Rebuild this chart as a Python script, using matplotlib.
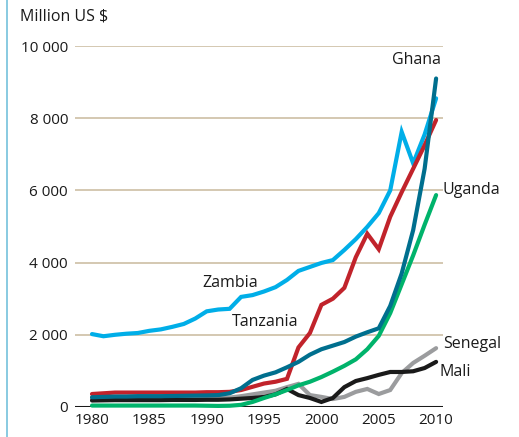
import matplotlib
matplotlib.use("Agg")
import matplotlib.pyplot as plt
from matplotlib.lines import Line2D

plt.rcParams['font.family'] = ['Open Sans', 'DejaVu Sans']

years = list(range(1980, 2011))

zambia = [2020, 1960, 2000, 2030, 2050, 2110, 2150, 2220, 2300, 2450, 2650, 2700, 2720, 3050,
          3100, 3200, 3320, 3520, 3770, 3880, 3990, 4070, 4350, 4650, 4990, 5370, 6000, 7620,
          6750, 7550, 8550]
tanzania = [360, 380, 400, 400, 400, 400, 400, 400, 400, 400, 410, 410, 420, 470,
            560, 650, 700, 780, 1650, 2050, 2830, 3000, 3300, 4150, 4800, 4370, 5270, 5950,
            6600, 7250, 7950]
ghana = [270, 280, 290, 290, 300, 300, 300, 305, 310, 315, 320, 330, 380, 520,
         750, 870, 960, 1100, 1250, 1450, 1600, 1700, 1800, 1950, 2070, 2180, 2800, 3700,
         4900, 6600, 9100]
uganda = [40, 40, 40, 40, 40, 40, 40, 40, 40, 40, 35, 30, 35, 60,
          140, 250, 350, 470, 600, 700, 830, 980, 1140, 1320, 1600, 1970, 2600, 3400,
          4200, 5050, 5870]
senegal = [240, 240, 240, 240, 240, 240, 245, 245, 250, 250, 250, 255, 260, 300,
           350, 400, 450, 550, 640, 330, 280, 220, 280, 420, 500, 360, 470, 940,
           1220, 1420, 1630]
mali = [180, 185, 190, 190, 190, 190, 190, 195, 195, 195, 200, 200, 210, 230,
        250, 280, 350, 500, 330, 250, 140, 250, 550, 720, 800, 890, 970, 970,
        990, 1080, 1250]

series = [
    ("Zambia", zambia, "#00aee8"),
    ("Senegal", senegal, "#9b9c9e"),
    ("Mali", mali, "#1a1a1a"),
    ("Uganda", uganda, "#00b36b"),
    ("Tanzania", tanzania, "#c1232b"),
    ("Ghana", ghana, "#006f8e"),
]

yticks = [0, 2000, 4000, 6000, 8000, 10000]
ytick_labels = ["0", "2 000", "4 000", "6 000", "8 000", "10 000"]
xticks = [1980, 1985, 1990, 1995, 2000, 2005, 2010]

W, H = 519, 437
fig = plt.figure(figsize=(W / 100, H / 100), dpi=100)
ax = fig.add_axes([75 / W, (H - 407) / H, (443 - 75) / W, (407 - 46) / H])

ax.set_xlim(1980 + (75 - 92) / 11.47, 1980 + (443 - 92) / 11.47)
ax.set_ylim(0, 10000)

for v in yticks[1:]:
    ax.axhline(v, color="#c9b99c", lw=1.1, zorder=1)
ax.axhline(0, color="#1a1a1a", lw=2.2, zorder=2)

for name, vals, col in series:
    ax.plot(years, vals, color=col, lw=3.0, solid_capstyle="round",
            solid_joinstyle="miter", zorder=3, clip_on=False)

for s in ax.spines.values():
    s.set_visible(False)
ax.set_yticks(yticks)
ax.set_yticklabels(ytick_labels)
ax.set_xticks(xticks)
ax.tick_params(axis="both", length=0, labelsize=11, colors="#1a1a1a")
ax.tick_params(axis="y", pad=5)
ax.tick_params(axis="x", pad=4)

fs = 11.5
tc = "#1a1a1a"
ax.text(2010.43, 9612, "Ghana", ha="right", va="center", fontsize=fs, color=tc)
ax.text(2010.6, 6011, "Uganda", ha="left", va="center", fontsize=fs, color=tc)
ax.text(1992.03, 3435, "Zambia", ha="center", va="center", fontsize=fs, color=tc)
ax.text(1992.2, 2355, "Tanzania", ha="left", va="center", fontsize=fs, color=tc)
ax.text(2010.6, 1745, "Senegal", ha="left", va="center", fontsize=fs, color=tc)
ax.text(2010.34, 970, "Mali", ha="left", va="center", fontsize=fs, color=tc)

fig.text(20 / W, 1 - 17 / H, "Million US $", ha="left", va="center", fontsize=fs, color=tc)

fig.add_artist(Line2D([6.5 / W, 6.5 / W], [0, 1], color="#7fc6de", lw=1.3,
                      transform=fig.transFigure))

fig.savefig("out.png", dpi=100)
